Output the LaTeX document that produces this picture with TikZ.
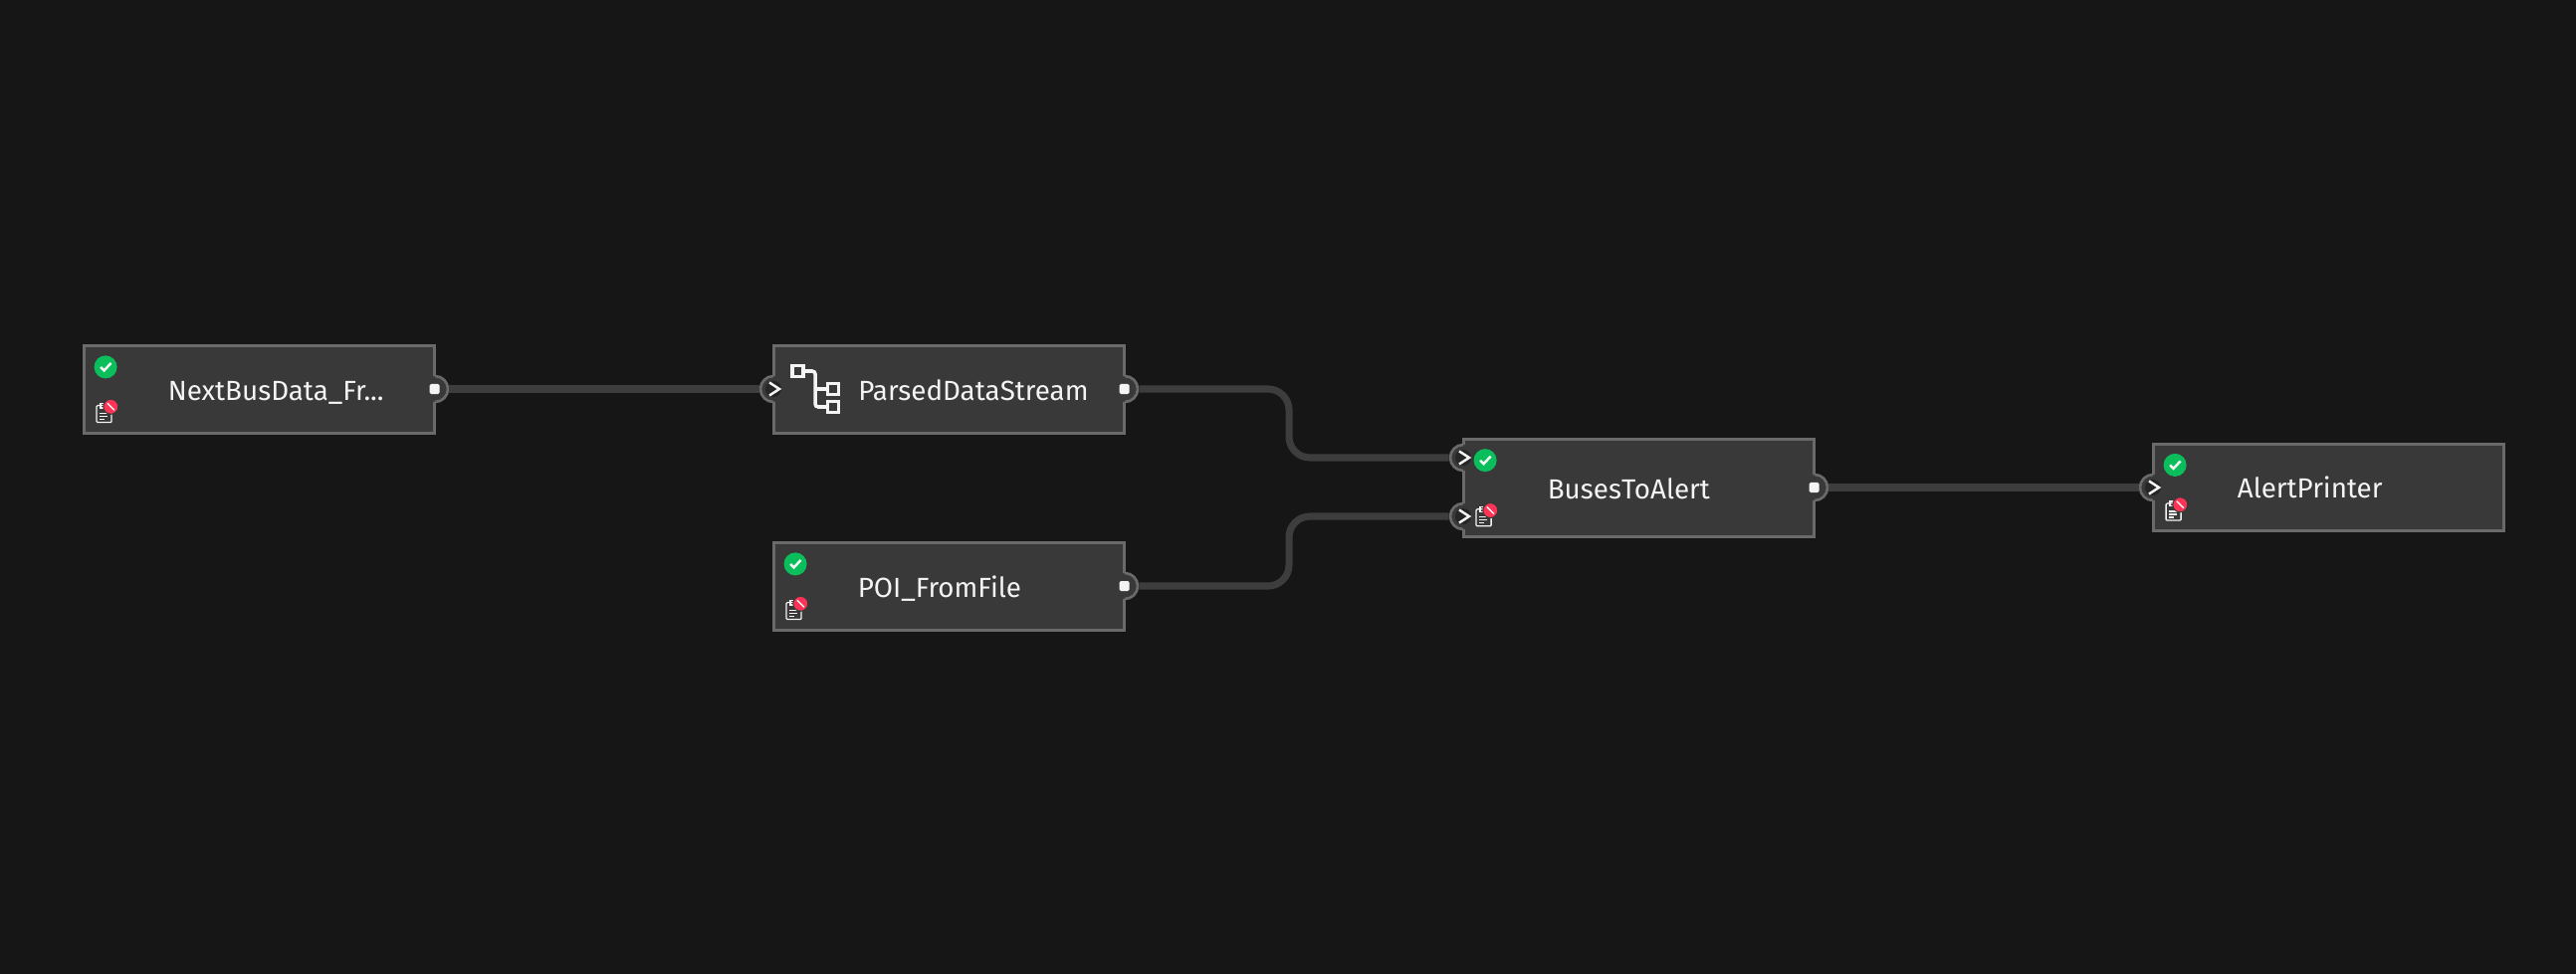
\documentclass[tikz,border=0pt]{standalone}
\usepackage{fontspec}
\usepackage{tikz}
\usetikzlibrary{positioning}
\setmainfont{Fira Sans}
\definecolor{canvas}{HTML}{161616}
\definecolor{boxfill}{HTML}{393939}
\definecolor{boxline}{HTML}{6A6A6A}
\definecolor{wire}{HTML}{3D3D3D}
\definecolor{portdark}{HTML}{262626}
\definecolor{okgreen}{HTML}{0ABF5B}
\definecolor{stopred}{HTML}{FF3355}
\definecolor{ink}{HTML}{F4F4F4}
\tikzset{
    opbox/.style={draw=boxline, fill=boxfill, line width=0.75pt, minimum width=3.52cm, minimum height=0.875cm, inner sep=0pt},
    tallbox/.style={opbox, minimum height=0.98cm},
    oplabel/.style={text=ink, font=\fontsize{7.9pt}{9pt}\selectfont, inner sep=0pt, text height=2.1mm, text depth=0pt},
    port/.style={circle, fill=boxfill, minimum size=0.26cm, inner sep=0pt, outer sep=0.4pt},
    portarc/.style={draw=boxline, line width=0.75pt},
    link/.style={draw=wire, line width=2pt, rounded corners=0.21cm},
    okdot/.style={circle, fill=okgreen, minimum size=0.23cm, inner sep=0pt},
    stopdot/.style={circle, fill=stopred, draw=boxfill, line width=0.3pt, minimum size=0.15cm, inner sep=0pt},
    treebox/.style={draw=ink, line width=1pt, minimum size=0.11cm, inner sep=0pt},
    iconline/.style={draw=ink, line width=0.36pt},
}
\begin{document}
\begin{tikzpicture}[x=0.01cm, y=0.01cm]
    \useasboundingbox (0,0) rectangle (2588,978);
    \fill[canvas] (-5,-5) rectangle (2593,983);

    % operators
    \node[opbox] (nextbus) at (260.5,586.5) {};
    \node[opbox] (parsed) at (953.5,586.5) {};
    \node[opbox] (poi) at (953.5,388.5) {};
    \node[tallbox] (buses) at (1646.5,487.5) {};
    \node[opbox] (printer) at (2339.5,488) {};

    \node[oplabel, right=0.85cm of nextbus.west] (nextbus_text) {NextBusData\_Fr...};
    \node[oplabel, right=0.855cm of parsed.west] (parsed_text) {ParsedDataStream};
    \node[oplabel, right=0.85cm of poi.west] (poi_text) {POI\_FromFile};
    \node[oplabel, right=0.85cm of buses.west] (buses_text) {BusesToAlert};
    \node[oplabel, right=0.85cm of printer.west] (printer_text) {AlertPrinter};

    % ports
    \node[port] (nextbus_out) at (437,587) {};
    \node[port] (parsed_in) at (777,587) {};
    \node[port] (parsed_out) at (1130,587) {};
    \node[port] (poi_out) at (1130,389) {};
    \node[port] (buses_ina) at (1470,518) {};
    \node[port] (buses_inb) at (1470,459) {};
    \node[port] (buses_out) at (1823,488) {};
    \node[port] (printer_in) at (2163,488) {};

    \foreach \p in {parsed_in, buses_ina, buses_inb, printer_in} {
        \draw[portarc] (\p.center) ++(0,13) arc (90:270:0.13cm);
        \fill[portdark] (\p.center) circle (0.08cm);
        \draw[draw=ink, line width=0.7pt] ([shift={(-0.04cm,0.065cm)}]\p.center) -- ([xshift=0.06cm]\p.center) -- ([shift={(-0.04cm,-0.065cm)}]\p.center);
    }
    \foreach \p in {nextbus_out, parsed_out, poi_out, buses_out} {
        \draw[portarc] (\p.center) ++(0,13) arc (90:-90:0.13cm);
        \fill[ink, rounded corners=0.015cm] ([shift={(-0.055cm,-0.05cm)}]\p.center) rectangle ([shift={(0.045cm,0.05cm)}]\p.center);
    }

    % status icons
    \foreach \n in {nextbus, poi, buses, printer} {
        \node[okdot] (\n_ok) at ([shift={(0.23cm,-0.225cm)}]\n.north west) {};
        \draw[draw=ink, line width=0.7pt] ([shift={(-0.05cm,0cm)}]\n_ok.center) -- ([shift={(-0.015cm,-0.035cm)}]\n_ok.center) -- ([shift={(0.055cm,0.04cm)}]\n_ok.center);
        \coordinate (\n_clip) at ([shift={(0.215cm,0.205cm)}]\n.south west);
        \draw[iconline, rounded corners=0.01cm] ([shift={(-0.075cm,-0.085cm)}]\n_clip) rectangle ([shift={(0.075cm,0.085cm)}]\n_clip);
        \draw[iconline] ([shift={(-0.035cm,0.06cm)}]\n_clip) rectangle ([shift={(0.02cm,0.105cm)}]\n_clip);
        \draw[iconline] ([shift={(-0.045cm,0.005cm)}]\n_clip) -- ([shift={(0.04cm,0.005cm)}]\n_clip);
        \draw[iconline] ([shift={(-0.045cm,-0.025cm)}]\n_clip) -- ([shift={(0.03cm,-0.025cm)}]\n_clip);
        \draw[iconline] ([shift={(-0.045cm,-0.055cm)}]\n_clip) -- ([shift={(0.005cm,-0.055cm)}]\n_clip);
        \node[stopdot] (\n_stop) at ([shift={(0.067cm,0.073cm)}]\n_clip) {};
        \draw[draw=ink, line width=0.4pt] ([shift={(-0.035cm,0.035cm)}]\n_stop.center) -- ([shift={(0.035cm,-0.035cm)}]\n_stop.center);
    }

    % tree icon
    \node[treebox] (tree_a) at (801.5,605) {};
    \node[treebox] (tree_b) at (837,587) {};
    \node[treebox] (tree_c) at (837,569) {};
    \coordinate (tree_bus) at (819,587);
    \draw[draw=ink, line width=1pt, rounded corners=0.03cm] (tree_a.east) -| (tree_bus) |- (tree_c.west);
    \draw[draw=ink, line width=1pt] (tree_bus) -- (tree_b.west);

    % connectors
    \coordinate (bend) at (1295,489);
    \draw[link] (nextbus_out) -- (parsed_in);
    \draw[link] (parsed_out) -- (parsed_out -| bend) -- (bend |- buses_ina) -- (buses_ina);
    \draw[link] (poi_out) -- (poi_out -| bend) -- (bend |- buses_inb) -- (buses_inb);
    \draw[link] (buses_out) -- (printer_in);
\end{tikzpicture}
\end{document}
